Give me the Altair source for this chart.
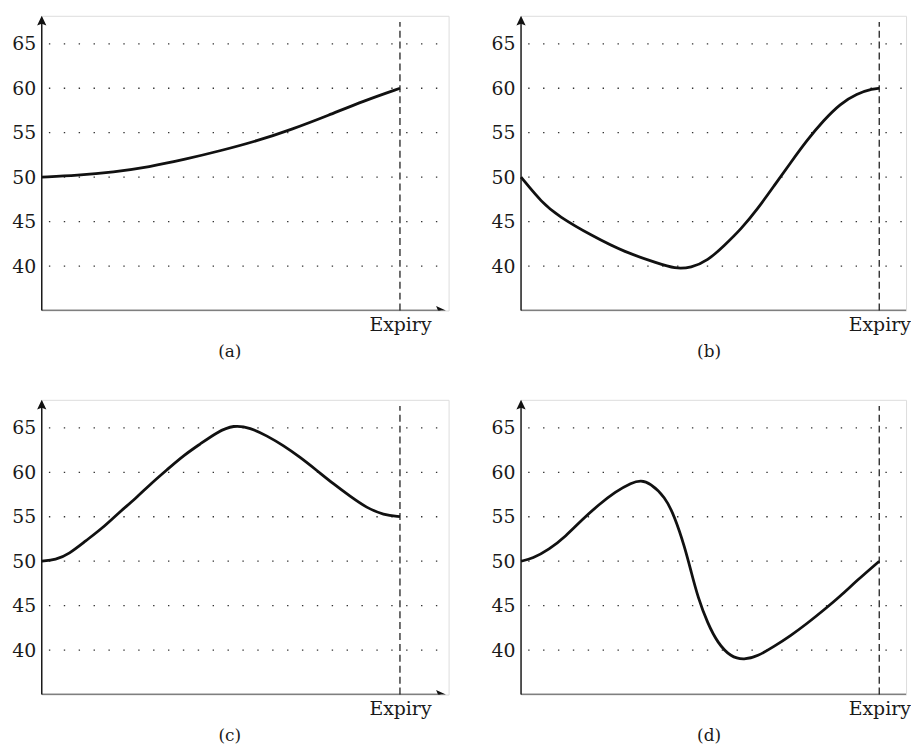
import altair as alt
import pandas as pd

# ---------------- data ----------------
Y_TICKS = [40, 45, 50, 55, 60, 65]
CAPTIONS = ["(a)", "(b)", "(c)", "(d)"]
EXPIRY_LABEL = "Expiry"

A_T = [0, 0.1, 0.2, 0.3, 0.4, 0.5, 0.6, 0.7, 0.8, 0.9, 1.0]
A_V = [50, 50.2, 50.57, 51.15, 52.0, 52.98, 54.06, 55.4, 56.95, 58.6, 60]

B_T = [0, 0.059, 0.105, 0.198, 0.290, 0.383, 0.429, 0.475, 0.521, 0.567, 0.614,
       0.660, 0.706, 0.752, 0.799, 0.845, 0.891, 0.937, 0.983, 1.0]
B_V = [50, 47.1, 45.6, 43.4, 41.55, 40.3, 39.7, 39.8, 40.6, 42.3, 44.15,
       46.4, 49.0, 51.6, 54.2, 56.4, 58.25, 59.4, 59.95, 60.0]

C_T = [0, 0.039, 0.076, 0.123, 0.169, 0.215, 0.262, 0.304, 0.35, 0.396, 0.443,
       0.489, 0.536, 0.582, 0.629, 0.675, 0.721, 0.768, 0.814, 0.861, 0.907,
       0.954, 1.0]
C_V = [50, 50.15, 50.8, 52.3, 53.7, 55.45, 57.05, 58.7, 60.3, 61.9, 63.2,
       64.5, 65.35, 65.0, 64.1, 63.0, 61.7, 60.2, 58.7, 57.3, 56.0,
       55.2, 55.0]

D_T = [0, 0.032, 0.078, 0.125, 0.171, 0.217, 0.263, 0.309, 0.335, 0.36, 0.402,
       0.429, 0.457, 0.475, 0.494, 0.521, 0.549, 0.586, 0.623, 0.66, 0.706,
       0.752, 0.799, 0.845, 0.891, 0.937, 1.0]
D_V = [50, 50.3, 51.3, 52.8, 54.7, 56.35, 57.8, 58.85, 59.1, 58.8, 57.25,
       55.0, 51.6, 48.8, 45.9, 43.0, 40.8, 39.2, 38.9, 39.3, 40.4,
       41.6, 43.0, 44.5, 46.05, 47.8, 50.0]

CURVES = [(A_T, A_V), (B_T, B_V), (C_T, C_V), (D_T, D_V)]

# ---------------- geometry / style ----------------
Y_MIN, Y_MAX = 35, 68.15
EXPIRY_X = 1.0
EXPIRY_TOP = 67.45
GRID_START, GRID_END = 0.02, 1.125
ARROW_Y = 67.54
ARROW_X = 1.113
PX_PER_T = 361
PANEL_H = 297
LEFT_W, RIGHT_W = 410, 388
FONT = "DejaVu Serif"
INK = "#111"

UP_ARROW = "M0,-1L0.85,0.8L0,0.45L-0.85,0.8Z"
RIGHT_ARROW = "M1,0L-0.8,0.85L-0.45,0L-0.8,-0.85Z"


def panel(t, v, cap, width):
    xmax = width / PX_PER_T
    xs = alt.Scale(domain=[0, xmax], nice=False, zero=False)
    ys = alt.Scale(domain=[Y_MIN, Y_MAX], nice=False, zero=False)
    xa = alt.Axis(values=[EXPIRY_X], labelExpr=f"'{EXPIRY_LABEL}'", domain=False,
                  ticks=False, grid=False, labelFont=FONT, labelFontSize=19,
                  labelColor="#1a1a1a", labelPadding=5, labelFlush=False,
                  title=cap, titleFont=FONT, titleFontSize=17,
                  titleFontWeight="normal", titleColor="#1a1a1a", titlePadding=9,
                  titleX=189, titleAlign="center")
    ya = alt.Axis(values=Y_TICKS, domain=False, ticks=False, grid=False,
                  labelFont=FONT, labelFontSize=19, labelColor="#1a1a1a",
                  labelPadding=6, labelFlush=False, title=None)

    def X(f="x"):
        return alt.X(f"{f}:Q", scale=xs, axis=xa)

    def Y(f="y"):
        return alt.Y(f"{f}:Q", scale=ys, axis=ya)

    grid_df = pd.DataFrame({"y": Y_TICKS, "x": GRID_START, "x2": GRID_END})
    grid = alt.Chart(grid_df).mark_rule(
        strokeDash=[1.4, 13.6], color="#333", strokeWidth=1.3, clip=True
    ).encode(x=X(), x2="x2:Q", y=Y())

    yaxis_df = pd.DataFrame({"x": [0], "y": [Y_MIN], "y2": [ARROW_Y]})
    yaxis = alt.Chart(yaxis_df).mark_rule(color=INK, strokeWidth=1.4).encode(
        x=X(), y=Y(), y2="y2:Q")
    xaxis_df = pd.DataFrame({"x": [0], "x2": [ARROW_X], "y": [Y_MIN]})
    xaxis = alt.Chart(xaxis_df).mark_rule(color=INK, strokeWidth=1.4, clip=True).encode(
        x=X(), x2="x2:Q", y=Y())

    up_df = pd.DataFrame({"x": [0], "y": [ARROW_Y]})
    up = alt.Chart(up_df).mark_point(shape=UP_ARROW, filled=True, size=120,
                                     color=INK, opacity=1).encode(x=X(), y=Y())
    rt_df = pd.DataFrame({"x": [ARROW_X], "y": [Y_MIN]})
    rt = alt.Chart(rt_df).mark_point(shape=RIGHT_ARROW, filled=True, size=120,
                                     color=INK, opacity=1, clip=True).encode(x=X(), y=Y())

    exp_df = pd.DataFrame({"x": [EXPIRY_X], "y": [Y_MIN], "y2": [EXPIRY_TOP]})
    expiry = alt.Chart(exp_df).mark_rule(color="#222", strokeWidth=1.3,
                                         strokeDash=[7, 4]).encode(
        x=X(), y=Y(), y2="y2:Q")

    curve_df = pd.DataFrame({"x": t, "y": v})
    curve = alt.Chart(curve_df).mark_line(color=INK, strokeWidth=2.8,
                                          interpolate="basis").encode(
        x=X(), y=Y())

    return alt.layer(grid, expiry, xaxis, yaxis, up, rt, curve).properties(
        width=width, height=PANEL_H)


widths = [LEFT_W, RIGHT_W, LEFT_W, RIGHT_W]
panels = [panel(t, v, c, w) for (t, v), c, w in zip(CURVES, CAPTIONS, widths)]

chart = alt.vconcat(
    alt.hconcat(panels[0], panels[1], spacing=41),
    alt.hconcat(panels[2], panels[3], spacing=41),
    spacing=39,
).properties(
    padding={"left": 3, "top": 4, "right": 0, "bottom": 0}
).configure_view(stroke=None).configure(background="white")

chart.save("out.html", embed_options={"renderer": "svg", "actions": False})
